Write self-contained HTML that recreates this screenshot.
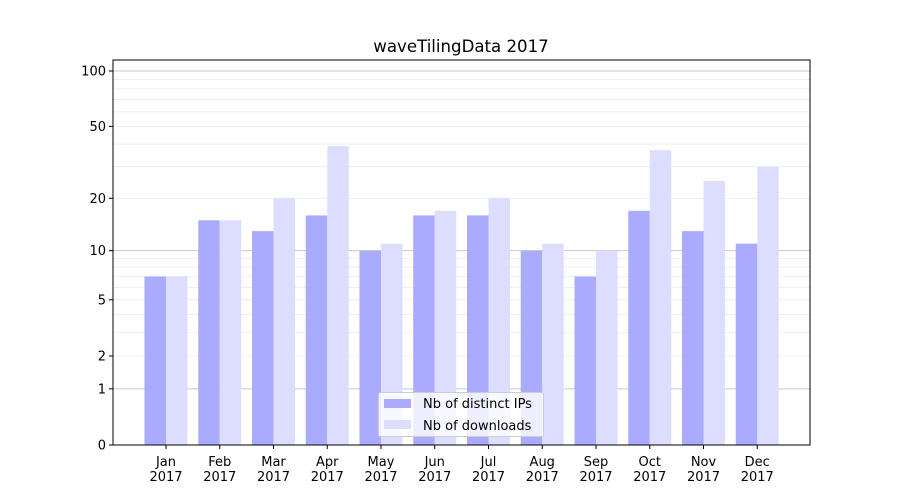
<!DOCTYPE html>
<html><head><meta charset="utf-8"><style>
body{margin:0;background:#fff}
svg{display:block;font-family:"DejaVu Sans","Liberation Sans",sans-serif}
</style></head><body>
<svg id="s" width="900" height="500" xmlns="http://www.w3.org/2000/svg"></svg>
<script>
const s=document.getElementById('s');
const L=113,R=810,T=60,B=445;
const Y=v=>B-186.6*Math.log10(1+v);
let h='<rect width="900" height="500" fill="#fff"/>';
[2,3,4,5,6,7,8,9,20,30,40,50,60,70,80,90].forEach(v=>{h+=`<line x1="${L}" x2="${R}" y1="${Y(v)}" y2="${Y(v)}" stroke="#ebebeb" stroke-width="0.8"/>`});
[1,10,100].forEach(v=>{h+=`<line x1="${L}" x2="${R}" y1="${Y(v)}" y2="${Y(v)}" stroke="#c8c8c8" stroke-width="1"/>`});
const ip=[7,15,13,16,10,16,16,10,7,17,13,11];
const dl=[7,15,20,39,11,17,20,11,10,37,25,30];
const m=['Jan','Feb','Mar','Apr','May','Jun','Jul','Aug','Sep','Oct','Nov','Dec'];
for(let i=0;i<12;i++){
 const c=166+i*53.75,w=21.5;
 h+=`<rect x="${c-w}" y="${Y(ip[i])}" width="${w}" height="${B-Y(ip[i])}" fill="#aaaaff"/>`;
 h+=`<rect x="${c}" y="${Y(dl[i])}" width="${w}" height="${B-Y(dl[i])}" fill="#ddddff"/>`;
 h+=`<line x1="${c}" x2="${c}" y1="${B}" y2="${B+4}" stroke="#000"/>`;
 h+=`<text x="${c}" y="466" font-size="13" text-anchor="middle">${m[i]}</text><text x="${c}" y="481" font-size="13" text-anchor="middle">2017</text>`;
}
[0,1,2,5,10,20,50,100].forEach(v=>{const y=Y(v);h+=`<line x1="${L-4}" x2="${L}" y1="${y}" y2="${y}" stroke="#000"/><text x="${L-7}" y="${y+4.5}" font-size="13" text-anchor="end">${v}</text>`});
h+=`<rect x="${L}" y="${T}" width="${R-L}" height="${B-T}" fill="none" stroke="#000" stroke-width="1"/>`;
h+=`<text x="461" y="52" font-size="16.6" text-anchor="middle">waveTilingData 2017</text>`;
h+=`<rect x="378.5" y="392.5" width="165" height="44" rx="2" fill="#fff" fill-opacity="0.8" stroke="#ccc"/>`;
h+=`<rect x="384" y="399" width="27" height="9" fill="#aaaaff"/><text x="423" y="408" font-size="13">Nb of distinct IPs</text>`;
h+=`<rect x="384" y="420" width="27" height="9" fill="#ddddff"/><text x="423" y="430" font-size="13">Nb of downloads</text>`;
s.innerHTML=h;
</script>
</body></html>
